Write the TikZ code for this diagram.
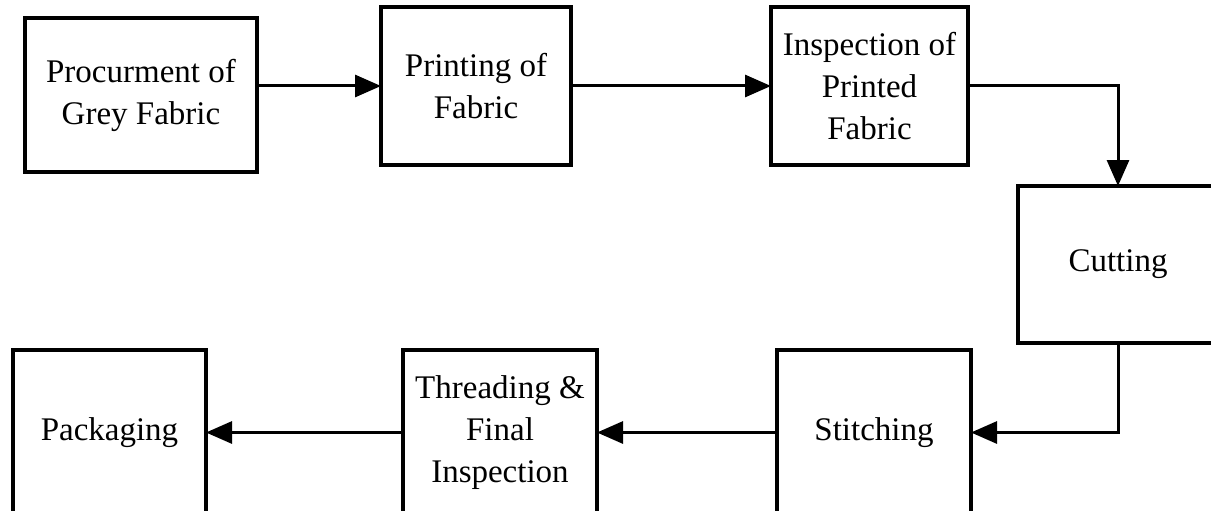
\documentclass[tikz,border=0pt]{standalone}
\usepackage{fontspec}
\setmainfont{Liberation Serif}
\usetikzlibrary{positioning,arrows.meta}

\begin{document}
\begin{tikzpicture}[
    stage/.style={draw, line width=1.6pt, inner sep=0pt, outer sep=0pt, align=center,
      font=\fontsize{16.5}{21}\selectfont},
    flow/.style={line width=1.5pt, -{Triangle[length=13pt,width=11pt]}}
  ]
  \useasboundingbox (0,0) rectangle (605.5pt,255pt);

  \node[stage, minimum width=116pt, minimum height=77pt] (proc) at (70.5pt,207.5pt) {Procurment of\\Grey Fabric};
  \node[stage, minimum width=95pt, minimum height=79pt, right=62pt of proc, yshift=4.5pt] (print) {Printing of\\Fabric};
  \node[stage, minimum width=98.5pt, minimum height=79pt, right=100pt of print] (insp) {Inspection of\\Printed\\Fabric};
  \node[stage, minimum width=100pt, minimum height=78.5pt, below right=10.5pt and 25pt of insp] (cut) {Cutting};

  \node[stage, minimum width=97pt, minimum height=82.5pt, below left=3.5pt and 23.5pt of cut] (stitch) {Stitching};
  \node[stage, minimum width=97pt, minimum height=82.5pt, left=90pt of stitch] (thread) {Threading \&\\Final\\Inspection};
  \node[stage, minimum width=96.5pt, minimum height=82.5pt, left=98.5pt of thread] (pack) {Packaging};

  \draw[flow] (proc.east |- print.west) -- (print.west);
  \draw[flow] (print) -- (insp);
  \draw[flow] (insp.east) -| (cut.north);
  \draw[flow] (cut.south) |- (stitch.east);
  \draw[flow] (stitch) -- (thread);
  \draw[flow] (thread) -- (pack);
\end{tikzpicture}
\end{document}
